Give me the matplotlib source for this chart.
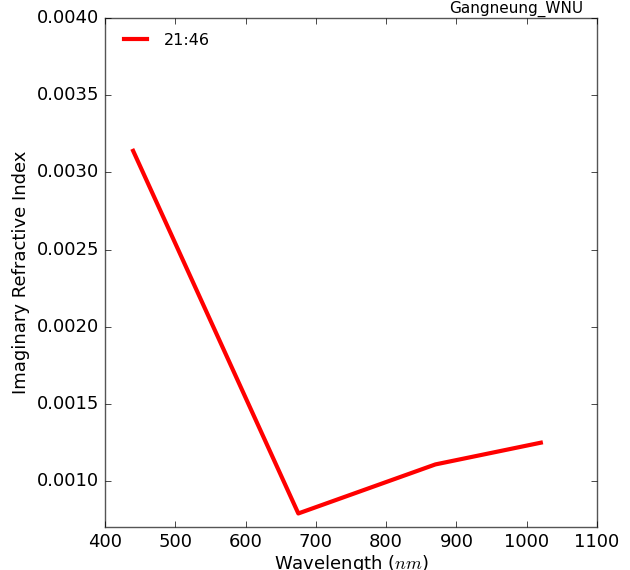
import matplotlib
matplotlib.use("Agg")
import matplotlib.pyplot as plt

wavelength = [440, 675, 870, 1020]
imag_index = [0.00314, 0.000788, 0.001106, 0.001247]
series_label = "21:46"
site = "Gangneung_WNU"

plt.style.use('classic')
plt.rcParams['mathtext.fontset'] = 'cm'
plt.rcParams['font.family'] = 'DejaVu Sans'

fig = plt.figure(figsize=(6.3, 5.7), dpi=100, facecolor='white')
ax = fig.add_axes([0.1667, 0.0754, 0.781, 0.8926])
ax.plot(wavelength, imag_index, color='red', lw=3, label=series_label)
ax.set_xlim(400, 1100)
ax.set_ylim(0.0007, 0.0040)
ax.set_yticks([0.0010, 0.0015, 0.0020, 0.0025, 0.0030, 0.0035, 0.0040])
ax.tick_params(labelsize=13)
ax.set_xlabel(r"Wavelength ($nm$)", fontsize=13, labelpad=2)
ax.set_ylabel("Imaginary Refractive Index", fontsize=13)
ax.text(0.972, 1.003, site, transform=ax.transAxes, ha='right', va='bottom', fontsize=11)
ax.legend(loc='upper left', frameon=False, fontsize=11.5, handlelength=2.0)
for s in ax.spines.values():
    s.set_color('#555555')
fig.savefig("out.png", dpi=100, facecolor='white')
